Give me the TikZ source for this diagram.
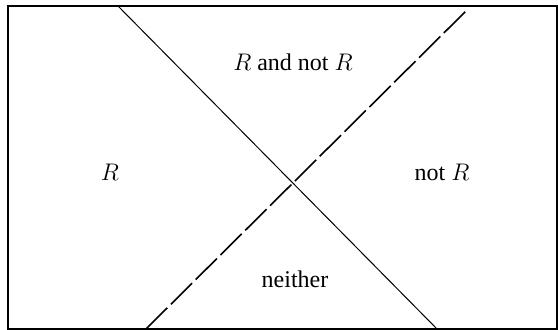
\documentclass[tikz,border=0pt]{standalone}
\usepackage{fontspec}
\setmainfont{Liberation Serif}
\usetikzlibrary{positioning}
\tikzset{
  frame/.style={draw=black,line width=1pt},
  solidline/.style={draw=black,line width=0.5pt},
  dashline/.style={draw=black,line width=0.8pt,dash pattern=on 15pt off 2.5pt},
  region/.style={inner sep=0pt,font=\fontsize{12}{14}\selectfont}
}
\begin{document}
\begin{tikzpicture}[x=0.5pt,y=-0.5pt]
  \useasboundingbox (0,0) rectangle (558,330);
  \draw[frame] (7.5,6) rectangle (557,329);
  % the two dividing lines
  \coordinate (solidtop) at (118,6);
  \coordinate (solidbot) at (437,329);
  \coordinate (dashtop) at (467,10);
  \coordinate (dashbot) at (146,329);
  \draw[solidline] (solidtop) -- (solidbot);
  \draw[dashline] (dashbot) -- (dashtop);
  % region labels
  \node[region] (both) at (293,62) {$R$ and not $R$};
  \node[region] (onlyr) at (110,172) {$R$};
  \node[region] (notr) at (442,172) {not $R$};
  \node[region] (neither) at (295,279) {neither};
\end{tikzpicture}
\end{document}
